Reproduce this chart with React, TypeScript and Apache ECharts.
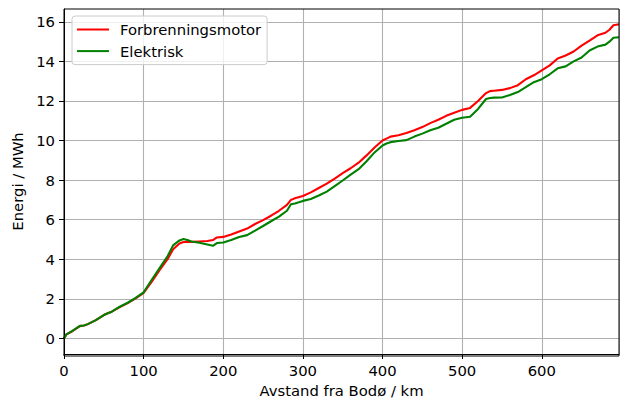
import React, { useEffect, useRef } from "react";
import * as echarts from "echarts";

const distances = [0, 3, 10, 20, 25, 30, 40, 50, 55, 60, 70, 80, 90, 100, 110, 120, 130, 137, 145, 150, 155, 160, 170, 180, 187, 192, 200, 210, 220, 230, 240, 250, 260, 270, 280, 285, 290, 300, 310, 320, 330, 340, 350, 360, 370, 380, 390, 400, 405, 410, 420, 430, 440, 450, 460, 470, 480, 490, 500, 510, 520, 530, 535, 540, 550, 560, 570, 580, 590, 600, 610, 620, 630, 640, 650, 660, 670, 680, 685, 690, 697];

const forbrenning = [0, 0.2, 0.35, 0.62, 0.65, 0.72, 0.92, 1.18, 1.27, 1.35, 1.58, 1.78, 2.02, 2.3, 2.85, 3.45, 4.0, 4.5, 4.8, 4.87, 4.88, 4.88, 4.9, 4.92, 4.97, 5.1, 5.13, 5.25, 5.4, 5.55, 5.78, 5.98, 6.2, 6.45, 6.75, 7.0, 7.08, 7.2, 7.38, 7.6, 7.82, 8.08, 8.35, 8.6, 8.88, 9.25, 9.65, 10.0, 10.1, 10.2, 10.27, 10.38, 10.52, 10.68, 10.88, 11.05, 11.25, 11.4, 11.55, 11.65, 12.0, 12.4, 12.5, 12.52, 12.56, 12.65, 12.8, 13.1, 13.3, 13.55, 13.8, 14.15, 14.3, 14.5, 14.8, 15.05, 15.32, 15.45, 15.6, 15.83, 15.88];

const elektrisk = [0, 0.2, 0.37, 0.63, 0.65, 0.72, 0.92, 1.18, 1.27, 1.35, 1.6, 1.8, 2.05, 2.33, 2.95, 3.55, 4.15, 4.7, 4.95, 5.02, 4.97, 4.9, 4.83, 4.75, 4.68, 4.82, 4.85, 4.97, 5.12, 5.22, 5.45, 5.68, 5.92, 6.15, 6.45, 6.78, 6.82, 6.95, 7.05, 7.22, 7.42, 7.7, 7.98, 8.28, 8.55, 8.95, 9.4, 9.75, 9.85, 9.92, 9.98, 10.02, 10.2, 10.35, 10.52, 10.65, 10.85, 11.05, 11.15, 11.2, 11.6, 12.1, 12.15, 12.17, 12.18, 12.3, 12.45, 12.7, 12.95, 13.1, 13.35, 13.65, 13.75, 14.0, 14.2, 14.55, 14.75, 14.85, 15.0, 15.2, 15.22];

const yTicks = [0, 2, 4, 6, 8, 10, 12, 14, 16];
const seriesNames = ["Forbrenningsmotor", "Elektrisk"];
const xTitle = "Avstand fra Bodø / km";
const yTitle = "Energi / MWh";

const FONT = "DejaVu Sans";
const FS = 14.8;

export default function App() {
  const ref = useRef<HTMLDivElement>(null);
  useEffect(() => {
    if (!ref.current) return;
    const chart = echarts.init(ref.current, null, { renderer: "svg" });
    const gridL = 64, gridR = 1, gridT = 9, gridB = 47;
    chart.setOption({
      animation: false,
      backgroundColor: "#ffffff",
      grid: { left: gridL, right: gridR, top: gridT, bottom: gridB, containLabel: false },
      legend: {
        orient: "vertical",
        left: 72,
        top: 16,
        padding: [6, 6, 6, 5],
        itemGap: 6.6,
        itemWidth: 32,
        itemHeight: 2,
        icon: "rect",
        backgroundColor: "rgba(255,255,255,0.8)",
        borderColor: "#cccccc",
        borderWidth: 1,
        borderRadius: 3,
        textStyle: { fontFamily: FONT, fontSize: FS, color: "#000", padding: [0, 0, 0, 6] },
        data: seriesNames,
      },
      xAxis: {
        type: "value",
        min: 0,
        max: 697,
        interval: 100,
        name: xTitle,
        nameLocation: "middle",
        nameGap: 29,
        nameTextStyle: { fontFamily: FONT, fontSize: FS, color: "#000" },
        axisLine: { show: true, onZero: false, lineStyle: { color: "#000", width: 1 } },
        axisTick: { show: true, length: 5, lineStyle: { color: "#000", width: 1 } },
        axisLabel: { fontFamily: FONT, fontSize: FS, color: "#000", margin: 9, showMaxLabel: false },
        splitLine: { show: true, lineStyle: { color: "#b0b0b0", width: 1.1 } },
      },
      yAxis: {
        type: "value",
        min: -0.79,
        max: 16.65,
        name: yTitle,
        nameLocation: "middle",
        nameGap: 37,
        nameTextStyle: { fontFamily: FONT, fontSize: FS, color: "#000" },
        axisLine: { show: true, onZero: false, lineStyle: { color: "#000", width: 1 } },
        axisTick: { show: true, length: 5, customValues: yTicks, lineStyle: { color: "#000", width: 1 } },
        axisLabel: { fontFamily: FONT, fontSize: FS, color: "#000", margin: 9, customValues: yTicks },
        splitLine: { show: true, lineStyle: { color: "#b0b0b0", width: 1.1 } },
      },
      graphic: [
        {
          type: "rect",
          shape: { x: gridL, y: gridT, width: 620 - gridL - gridR, height: 403 - gridT - gridB },
          style: { fill: "none", stroke: "#000", lineWidth: 1 },
          silent: true,
          z: 100,
        },
      ],
      series: [
        {
          name: seriesNames[0],
          type: "line",
          data: distances.map((d, i) => [d, forbrenning[i]]),
          showSymbol: false,
          symbol: "none",
          lineStyle: { color: "#ff0000", width: 2.1 },
          itemStyle: { color: "#ff0000" },
          z: 3,
        },
        {
          name: seriesNames[1],
          type: "line",
          data: distances.map((d, i) => [d, elektrisk[i]]),
          showSymbol: false,
          symbol: "none",
          lineStyle: { color: "#008000", width: 2.1 },
          itemStyle: { color: "#008000" },
          z: 4,
        },
      ],
    });
    return () => chart.dispose();
  }, []);
  return <div ref={ref} style={{ position: "fixed", left: 0, top: 0, width: 620, height: 403 }} />;
}
